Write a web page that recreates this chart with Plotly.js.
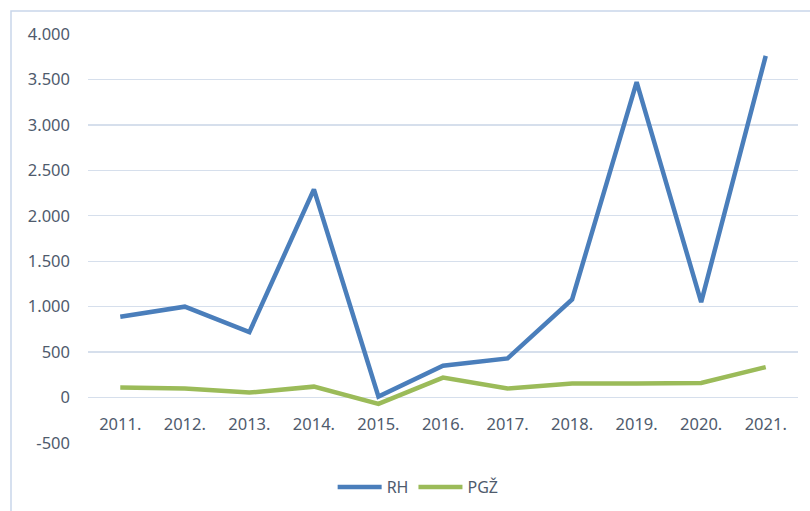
<!DOCTYPE html>
<html>
<head>
<meta charset="utf-8">
<script src="https://cdn.plot.ly/plotly-3.0.1.min.js"></script>
<style>html,body{margin:0;padding:0;background:#fff;}#chart{width:810px;height:511px;}</style>
</head>
<body>
<div id="chart"></div>
<script>
const years = ["2011.", "2012.", "2013.", "2014.", "2015.", "2016.", "2017.", "2018.", "2019.", "2020.", "2021."];
const rhValues = [890, 1000, 720, 2290, 10, 350, 430, 1080, 3470, 1050, 3760];
const pgzValues = [110, 100, 55, 120, -70, 220, 100, 155, 155, 160, 335];
const yTickVals = [-500, 0, 500, 1000, 1500, 2000, 2500, 3000, 3500, 4000];
const yTickLabels = ["-500", "0", "500", "1.000", "1.500", "2.000", "2.500", "3.000", "3.500", "4.000"];

const textColor = "#4f5b6d";
const fontFam = "'Noto Sans', 'Open Sans', sans-serif";

const traces = [
  {x: years, y: rhValues, name: "RH", type: "scatter", mode: "lines",
   line: {color: "#4a7ebb", width: 4.5}},
  {x: years, y: pgzValues, name: "PGŽ", type: "scatter", mode: "lines",
   line: {color: "#9bbb59", width: 4.5}}
];

const layout = {
  width: 810, height: 511,
  margin: {l: 88, r: 12, t: 34, b: 68, autoexpand: false},
  paper_bgcolor: "#ffffff", plot_bgcolor: "#ffffff",
  font: {family: fontFam, size: 16, color: textColor},
  showlegend: true,
  legend: {orientation: "h", x: 0.465, xanchor: "center", y: -0.108, yanchor: "middle",
           font: {size: 16, color: textColor}, itemwidth: 44},
  xaxis: {type: "category", range: [-0.5, 10.5], showgrid: false, zeroline: false, showline: false,
          ticks: "", anchor: "free", position: 500/4500,
          tickfont: {size: 16.5, color: textColor}, ticklabelstandoff: 15},
  yaxis: {range: [-500, 4000], tickvals: yTickVals, ticktext: yTickLabels,
          showgrid: true, gridcolor: "#d6dfec", gridwidth: 1.3, zeroline: false,
          showline: false, ticks: "", tickfont: {size: 16.5, color: textColor},
          ticklabelstandoff: 17},
  shapes: [{type: "rect", xref: "paper", yref: "paper",
            x0: (11-88)/710, x1: 2, y0: -1, y1: 1 + 23/409,
            line: {color: "#c9d6ea", width: 1.5}, fillcolor: "rgba(0,0,0,0)", layer: "below"}]
};

Plotly.newPlot("chart", traces, layout, {displayModeBar: false, staticPlot: true});
</script>
</body>
</html>
